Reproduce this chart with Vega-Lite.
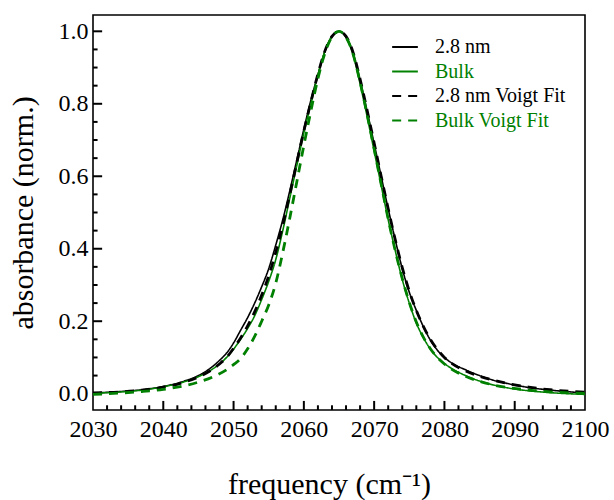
{
  "$schema": "https://vega.github.io/schema/vega-lite/v6.json",
  "width": 492,
  "height": 395,
  "autosize": "none",
  "padding": {"left": 93, "top": 15, "right": 29, "bottom": 90},
  "config": {"view": {"stroke": "black", "strokeWidth": 1.6}, "font": "Liberation Serif"},
  "datasets": {
    "curves": [
    {"s":"2.8 nm","x":2030,"y":0.002},{"s":"2.8 nm","x":2034,"y":0.006},{"s":"2.8 nm","x":2037,"y":0.011},{"s":"2.8 nm","x":2040,"y":0.02},{"s":"2.8 nm","x":2043,"y":0.035},{"s":"2.8 nm","x":2045,"y":0.05},{"s":"2.8 nm","x":2047,"y":0.075},{"s":"2.8 nm","x":2048,"y":0.092},{"s":"2.8 nm","x":2049,"y":0.112},{"s":"2.8 nm","x":2050,"y":0.14},{"s":"2.8 nm","x":2051,"y":0.175},{"s":"2.8 nm","x":2052,"y":0.21},{"s":"2.8 nm","x":2053,"y":0.25},{"s":"2.8 nm","x":2054,"y":0.295},{"s":"2.8 nm","x":2055,"y":0.345},{"s":"2.8 nm","x":2056,"y":0.41},{"s":"2.8 nm","x":2057,"y":0.48},{"s":"2.8 nm","x":2058,"y":0.56},{"s":"2.8 nm","x":2059,"y":0.645},{"s":"2.8 nm","x":2060,"y":0.73},{"s":"2.8 nm","x":2061,"y":0.81},{"s":"2.8 nm","x":2062,"y":0.88},{"s":"2.8 nm","x":2063,"y":0.945},{"s":"2.8 nm","x":2064,"y":0.986},{"s":"2.8 nm","x":2065,"y":1.0},{"s":"2.8 nm","x":2066,"y":0.985},{"s":"2.8 nm","x":2067,"y":0.94},{"s":"2.8 nm","x":2068,"y":0.865},{"s":"2.8 nm","x":2069,"y":0.78},{"s":"2.8 nm","x":2070,"y":0.69},{"s":"2.8 nm","x":2071,"y":0.6},{"s":"2.8 nm","x":2072,"y":0.51},{"s":"2.8 nm","x":2073,"y":0.425},{"s":"2.8 nm","x":2074,"y":0.345},{"s":"2.8 nm","x":2075,"y":0.28},{"s":"2.8 nm","x":2076,"y":0.23},{"s":"2.8 nm","x":2077,"y":0.185},{"s":"2.8 nm","x":2078,"y":0.148},{"s":"2.8 nm","x":2079,"y":0.12},{"s":"2.8 nm","x":2080,"y":0.1},{"s":"2.8 nm","x":2081,"y":0.085},{"s":"2.8 nm","x":2083,"y":0.066},{"s":"2.8 nm","x":2085,"y":0.05},{"s":"2.8 nm","x":2087,"y":0.037},{"s":"2.8 nm","x":2089,"y":0.028},{"s":"2.8 nm","x":2092,"y":0.017},{"s":"2.8 nm","x":2095,"y":0.01},{"s":"2.8 nm","x":2100,"y":0.002},

    {"s":"Bulk","x":2030,"y":0.001},{"s":"Bulk","x":2034,"y":0.005},{"s":"Bulk","x":2037,"y":0.01},{"s":"Bulk","x":2040,"y":0.019},{"s":"Bulk","x":2043,"y":0.033},{"s":"Bulk","x":2045,"y":0.047},{"s":"Bulk","x":2047,"y":0.068},{"s":"Bulk","x":2048,"y":0.082},{"s":"Bulk","x":2049,"y":0.1},{"s":"Bulk","x":2050,"y":0.123},{"s":"Bulk","x":2051,"y":0.15},{"s":"Bulk","x":2052,"y":0.18},{"s":"Bulk","x":2053,"y":0.215},{"s":"Bulk","x":2054,"y":0.26},{"s":"Bulk","x":2055,"y":0.31},{"s":"Bulk","x":2056,"y":0.37},{"s":"Bulk","x":2057,"y":0.45},{"s":"Bulk","x":2058,"y":0.54},{"s":"Bulk","x":2059,"y":0.63},{"s":"Bulk","x":2060,"y":0.72},{"s":"Bulk","x":2061,"y":0.8},{"s":"Bulk","x":2062,"y":0.88},{"s":"Bulk","x":2063,"y":0.945},{"s":"Bulk","x":2064,"y":0.985},{"s":"Bulk","x":2065,"y":1.0},{"s":"Bulk","x":2066,"y":0.983},{"s":"Bulk","x":2067,"y":0.935},{"s":"Bulk","x":2068,"y":0.855},{"s":"Bulk","x":2069,"y":0.765},{"s":"Bulk","x":2070,"y":0.67},{"s":"Bulk","x":2071,"y":0.575},{"s":"Bulk","x":2072,"y":0.48},{"s":"Bulk","x":2073,"y":0.395},{"s":"Bulk","x":2074,"y":0.315},{"s":"Bulk","x":2075,"y":0.25},{"s":"Bulk","x":2076,"y":0.195},{"s":"Bulk","x":2077,"y":0.155},{"s":"Bulk","x":2078,"y":0.123},{"s":"Bulk","x":2079,"y":0.1},{"s":"Bulk","x":2080,"y":0.083},{"s":"Bulk","x":2081,"y":0.07},{"s":"Bulk","x":2083,"y":0.05},{"s":"Bulk","x":2085,"y":0.035},{"s":"Bulk","x":2087,"y":0.024},{"s":"Bulk","x":2089,"y":0.016},{"s":"Bulk","x":2092,"y":0.008},{"s":"Bulk","x":2095,"y":0.003},{"s":"Bulk","x":2100,"y":-0.002},

    {"s":"2.8 nm Voigt Fit","x":2030,"y":0.002},{"s":"2.8 nm Voigt Fit","x":2034,"y":0.005},{"s":"2.8 nm Voigt Fit","x":2037,"y":0.01},{"s":"2.8 nm Voigt Fit","x":2040,"y":0.018},{"s":"2.8 nm Voigt Fit","x":2043,"y":0.032},{"s":"2.8 nm Voigt Fit","x":2045,"y":0.046},{"s":"2.8 nm Voigt Fit","x":2047,"y":0.067},{"s":"2.8 nm Voigt Fit","x":2048,"y":0.082},{"s":"2.8 nm Voigt Fit","x":2049,"y":0.1},{"s":"2.8 nm Voigt Fit","x":2050,"y":0.125},{"s":"2.8 nm Voigt Fit","x":2051,"y":0.154},{"s":"2.8 nm Voigt Fit","x":2052,"y":0.187},{"s":"2.8 nm Voigt Fit","x":2053,"y":0.226},{"s":"2.8 nm Voigt Fit","x":2054,"y":0.272},{"s":"2.8 nm Voigt Fit","x":2055,"y":0.325},{"s":"2.8 nm Voigt Fit","x":2056,"y":0.39},{"s":"2.8 nm Voigt Fit","x":2057,"y":0.465},{"s":"2.8 nm Voigt Fit","x":2058,"y":0.55},{"s":"2.8 nm Voigt Fit","x":2059,"y":0.638},{"s":"2.8 nm Voigt Fit","x":2060,"y":0.725},{"s":"2.8 nm Voigt Fit","x":2061,"y":0.805},{"s":"2.8 nm Voigt Fit","x":2062,"y":0.882},{"s":"2.8 nm Voigt Fit","x":2063,"y":0.946},{"s":"2.8 nm Voigt Fit","x":2064,"y":0.986},{"s":"2.8 nm Voigt Fit","x":2065,"y":1.0},{"s":"2.8 nm Voigt Fit","x":2066,"y":0.986},{"s":"2.8 nm Voigt Fit","x":2067,"y":0.942},{"s":"2.8 nm Voigt Fit","x":2068,"y":0.868},{"s":"2.8 nm Voigt Fit","x":2069,"y":0.782},{"s":"2.8 nm Voigt Fit","x":2070,"y":0.692},{"s":"2.8 nm Voigt Fit","x":2071,"y":0.6},{"s":"2.8 nm Voigt Fit","x":2072,"y":0.51},{"s":"2.8 nm Voigt Fit","x":2073,"y":0.425},{"s":"2.8 nm Voigt Fit","x":2074,"y":0.348},{"s":"2.8 nm Voigt Fit","x":2075,"y":0.283},{"s":"2.8 nm Voigt Fit","x":2076,"y":0.23},{"s":"2.8 nm Voigt Fit","x":2077,"y":0.186},{"s":"2.8 nm Voigt Fit","x":2078,"y":0.15},{"s":"2.8 nm Voigt Fit","x":2079,"y":0.122},{"s":"2.8 nm Voigt Fit","x":2080,"y":0.1},{"s":"2.8 nm Voigt Fit","x":2081,"y":0.084},{"s":"2.8 nm Voigt Fit","x":2083,"y":0.063},{"s":"2.8 nm Voigt Fit","x":2085,"y":0.048},{"s":"2.8 nm Voigt Fit","x":2087,"y":0.037},{"s":"2.8 nm Voigt Fit","x":2089,"y":0.028},{"s":"2.8 nm Voigt Fit","x":2092,"y":0.018},{"s":"2.8 nm Voigt Fit","x":2095,"y":0.011},{"s":"2.8 nm Voigt Fit","x":2100,"y":0.004},

    {"s":"Bulk Voigt Fit","x":2030,"y":-0.002},{"s":"Bulk Voigt Fit","x":2034,"y":0.002},{"s":"Bulk Voigt Fit","x":2037,"y":0.006},{"s":"Bulk Voigt Fit","x":2040,"y":0.012},{"s":"Bulk Voigt Fit","x":2043,"y":0.022},{"s":"Bulk Voigt Fit","x":2045,"y":0.032},{"s":"Bulk Voigt Fit","x":2047,"y":0.046},{"s":"Bulk Voigt Fit","x":2049,"y":0.066},{"s":"Bulk Voigt Fit","x":2050,"y":0.08},{"s":"Bulk Voigt Fit","x":2051,"y":0.097},{"s":"Bulk Voigt Fit","x":2052,"y":0.124},{"s":"Bulk Voigt Fit","x":2053,"y":0.158},{"s":"Bulk Voigt Fit","x":2054,"y":0.2},{"s":"Bulk Voigt Fit","x":2055,"y":0.245},{"s":"Bulk Voigt Fit","x":2056,"y":0.305},{"s":"Bulk Voigt Fit","x":2057,"y":0.39},{"s":"Bulk Voigt Fit","x":2058,"y":0.485},{"s":"Bulk Voigt Fit","x":2059,"y":0.585},{"s":"Bulk Voigt Fit","x":2060,"y":0.685},{"s":"Bulk Voigt Fit","x":2061,"y":0.78},{"s":"Bulk Voigt Fit","x":2062,"y":0.87},{"s":"Bulk Voigt Fit","x":2063,"y":0.94},{"s":"Bulk Voigt Fit","x":2064,"y":0.985},{"s":"Bulk Voigt Fit","x":2065,"y":1.0},{"s":"Bulk Voigt Fit","x":2066,"y":0.984},{"s":"Bulk Voigt Fit","x":2067,"y":0.937},{"s":"Bulk Voigt Fit","x":2068,"y":0.86},{"s":"Bulk Voigt Fit","x":2069,"y":0.77},{"s":"Bulk Voigt Fit","x":2070,"y":0.675},{"s":"Bulk Voigt Fit","x":2071,"y":0.578},{"s":"Bulk Voigt Fit","x":2072,"y":0.482},{"s":"Bulk Voigt Fit","x":2073,"y":0.395},{"s":"Bulk Voigt Fit","x":2074,"y":0.318},{"s":"Bulk Voigt Fit","x":2075,"y":0.252},{"s":"Bulk Voigt Fit","x":2076,"y":0.198},{"s":"Bulk Voigt Fit","x":2077,"y":0.156},{"s":"Bulk Voigt Fit","x":2078,"y":0.124},{"s":"Bulk Voigt Fit","x":2079,"y":0.1},{"s":"Bulk Voigt Fit","x":2080,"y":0.082},{"s":"Bulk Voigt Fit","x":2081,"y":0.068},{"s":"Bulk Voigt Fit","x":2083,"y":0.048},{"s":"Bulk Voigt Fit","x":2085,"y":0.034},{"s":"Bulk Voigt Fit","x":2087,"y":0.024},{"s":"Bulk Voigt Fit","x":2089,"y":0.017},{"s":"Bulk Voigt Fit","x":2092,"y":0.01},{"s":"Bulk Voigt Fit","x":2095,"y":0.005},{"s":"Bulk Voigt Fit","x":2100,"y":0.001}
    ],
    "xMinor": [{"t":2032},{"t":2034},{"t":2036},{"t":2038},{"t":2042},{"t":2044},{"t":2046},{"t":2048},{"t":2052},{"t":2054},{"t":2056},{"t":2058},{"t":2062},{"t":2064},{"t":2066},{"t":2068},{"t":2072},{"t":2074},{"t":2076},{"t":2078},{"t":2082},{"t":2084},{"t":2086},{"t":2088},{"t":2092},{"t":2094},{"t":2096},{"t":2098}],
    "xMajor": [{"t":2040},{"t":2050},{"t":2060},{"t":2070},{"t":2080},{"t":2090}],
    "yMinor": [{"t":0.05},{"t":0.1},{"t":0.15},{"t":0.25},{"t":0.3},{"t":0.35},{"t":0.45},{"t":0.5},{"t":0.55},{"t":0.65},{"t":0.7},{"t":0.75},{"t":0.85},{"t":0.9},{"t":0.95}],
    "yMajor": [{"t":0},{"t":0.2},{"t":0.4},{"t":0.6},{"t":0.8},{"t":1.0}]
  },
  "layer": [
    {
      "data": {"name": "xMinor"},
      "mark": {"type": "rule", "color": "#000000", "strokeWidth": 2},
      "encoding": {
        "x": {
          "field": "t", "type": "quantitative",
          "scale": {"domain": [2030, 2100], "nice": false, "zero": false},
          "axis": {
            "orient": "bottom", "zindex": 0,
            "values": [2030,2040,2050,2060,2070,2080,2090,2100],
            "format": "d", "ticks": false,
            "domain": false, "grid": false,
            "labelFont": "Liberation Serif", "labelFontSize": 24, "labelColor": "black",
            "labelPadding": 7, "labelFlush": false, "labelOverlap": false, "labelBound": false,
            "title": "frequency (cm⁻¹)",
            "titleFont": "Liberation Serif", "titleFontSize": 30, "titleFontWeight": "normal", "titleColor": "black",
            "titlePadding": 28, "titleX": 236
          }
        },
        "y": {"datum": -0.045, "type": "quantitative", "scale": {"domain": [-0.045, 1.045], "nice": false, "zero": false}},
        "y2": {"datum": -0.032}
      }
    },
    {
      "data": {"name": "xMajor"},
      "mark": {"type": "rule", "color": "#000000", "strokeWidth": 2},
      "encoding": {"x": {"field": "t", "type": "quantitative"}, "y": {"datum": -0.045, "type": "quantitative"}, "y2": {"datum": -0.02}}
    },
    {
      "data": {"name": "yMinor"},
      "mark": {"type": "rule", "color": "#000000", "strokeWidth": 2},
      "encoding": {
        "y": {
          "field": "t", "type": "quantitative",
          "axis": {
            "orient": "left", "zindex": 0,
            "values": [0, 0.2, 0.4, 0.6, 0.8, 1.0],
            "format": ".1f", "ticks": false,
            "domain": false, "grid": false,
            "labelFont": "Liberation Serif", "labelFontSize": 24, "labelColor": "black",
            "labelPadding": 5, "labelFlush": false, "labelOverlap": false, "labelBound": false,
            "title": "absorbance (norm.)",
            "titleFont": "Liberation Serif", "titleFontSize": 30, "titleFontWeight": "normal", "titleColor": "black",
            "titlePadding": 20
          }
        },
        "x": {"datum": 2030, "type": "quantitative"}, "x2": {"datum": 2030.65}
      }
    },
    {
      "data": {"name": "yMajor"},
      "mark": {"type": "rule", "color": "#000000", "strokeWidth": 2},
      "encoding": {"y": {"field": "t", "type": "quantitative"}, "x": {"datum": 2030, "type": "quantitative"}, "x2": {"datum": 2031.3}}
    },
    {
      "data": {"name": "curves"},
      "transform": [{"filter": "indexof(datum.s, 'Fit') < 0"}],
      "mark": {"type": "line", "interpolate": "monotone", "clip": true, "strokeWidth": 1.6},
      "encoding": {
        "x": {"field": "x", "type": "quantitative"},
        "y": {"field": "y", "type": "quantitative"},
        "color": {
          "field": "s", "type": "nominal",
          "scale": {"domain": ["2.8 nm", "Bulk", "2.8 nm Voigt Fit", "Bulk Voigt Fit"], "range": ["#000000", "#008000", "#000000", "#008000"]},
          "legend": {
            "title": null, "orient": "none", "legendX": 298, "legendY": 18,
            "symbolType": "stroke", "symbolSize": 660, "symbolStrokeWidth": 2.2,
            "labelFont": "Liberation Serif", "labelFontSize": 20, "labelOffset": 16,
            "rowPadding": 0.5,
            "encode": {"labels": {"update": {"fill": {"signal": "datum.value == 'Bulk' || datum.value == 'Bulk Voigt Fit' ? '#008000' : '#000000'"}}}}
          }
        },
        "strokeDash": {
          "field": "s", "type": "nominal",
          "scale": {"domain": ["2.8 nm", "Bulk", "2.8 nm Voigt Fit", "Bulk Voigt Fit"], "range": [[1, 0], [1, 0], [9, 7], [9, 7]]},
          "legend": {
            "title": null, "orient": "none", "legendX": 298, "legendY": 18,
            "symbolType": "stroke", "symbolSize": 660, "symbolStrokeWidth": 2.2,
            "labelFont": "Liberation Serif", "labelFontSize": 20, "labelOffset": 16,
            "rowPadding": 0.5,
            "encode": {"labels": {"update": {"fill": {"signal": "datum.value == 'Bulk' || datum.value == 'Bulk Voigt Fit' ? '#008000' : '#000000'"}}}}
          }
        }
      }
    },
    {
      "data": {"name": "curves"},
      "transform": [{"filter": "indexof(datum.s, 'Fit') >= 0"}],
      "mark": {"type": "line", "interpolate": "monotone", "clip": true, "strokeWidth": 2.8},
      "encoding": {
        "x": {"field": "x", "type": "quantitative"},
        "y": {"field": "y", "type": "quantitative"},
        "color": {"field": "s", "type": "nominal"},
        "strokeDash": {"field": "s", "type": "nominal"}
      }
    }
  ]
}
